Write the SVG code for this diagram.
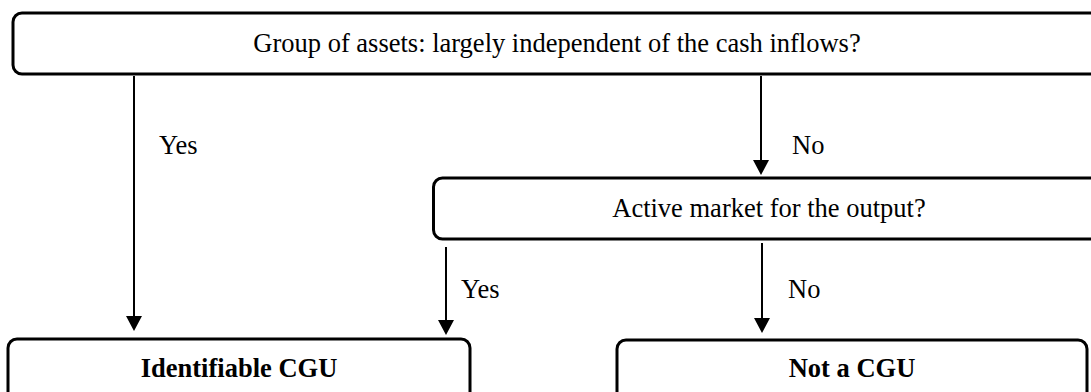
<svg xmlns="http://www.w3.org/2000/svg" width="1091" height="392" viewBox="0 0 1091 392">
<style>
.box{fill:#fff;stroke:#000;stroke-width:3}
.t{font-family:"Liberation Serif","Times New Roman",serif;font-size:26.5px;fill:#000}
.b{font-weight:bold}
.c{stroke:#000;stroke-width:2;fill:none}
</style>
<defs>
<marker id="ah" markerUnits="userSpaceOnUse" markerWidth="16" markerHeight="16" viewBox="0 0 16 16" refX="0" refY="8" orient="auto">
<polygon points="0,0 15,8 0,16" fill="#000"/>
</marker>
</defs>
<rect width="1091" height="392" fill="#fff"/>
<g id="n1">
<rect class="box" x="13" y="13" width="1100" height="61" rx="9"/>
<text class="t" x="557" y="52" text-anchor="middle">Group of assets: largely independent of the cash inflows?</text>
</g>
<g id="n2">
<rect class="box" x="433.5" y="178" width="680" height="61" rx="9"/>
<text class="t" x="769" y="217" text-anchor="middle">Active market for the output?</text>
</g>
<g id="n3">
<rect class="box" x="8" y="339" width="462" height="70" rx="9"/>
<text class="t b" x="239" y="377" text-anchor="middle">Identifiable CGU</text>
</g>
<g id="n4">
<rect class="box" x="617" y="340" width="470" height="70" rx="9"/>
<text class="t b" x="852" y="377" text-anchor="middle">Not a CGU</text>
</g>
<g id="connectors">
<line class="c" x1="134" y1="76" x2="134" y2="316" marker-end="url(#ah)"/>
<line class="c" x1="761" y1="76" x2="761" y2="160" marker-end="url(#ah)"/>
<line class="c" x1="446" y1="247" x2="446" y2="320" marker-end="url(#ah)"/>
<line class="c" x1="762" y1="243" x2="762" y2="318" marker-end="url(#ah)"/>
<text class="t" x="159" y="154">Yes</text>
<text class="t" x="792" y="154">No</text>
<text class="t" x="461" y="298">Yes</text>
<text class="t" x="788" y="298">No</text>
</g>
</svg>
